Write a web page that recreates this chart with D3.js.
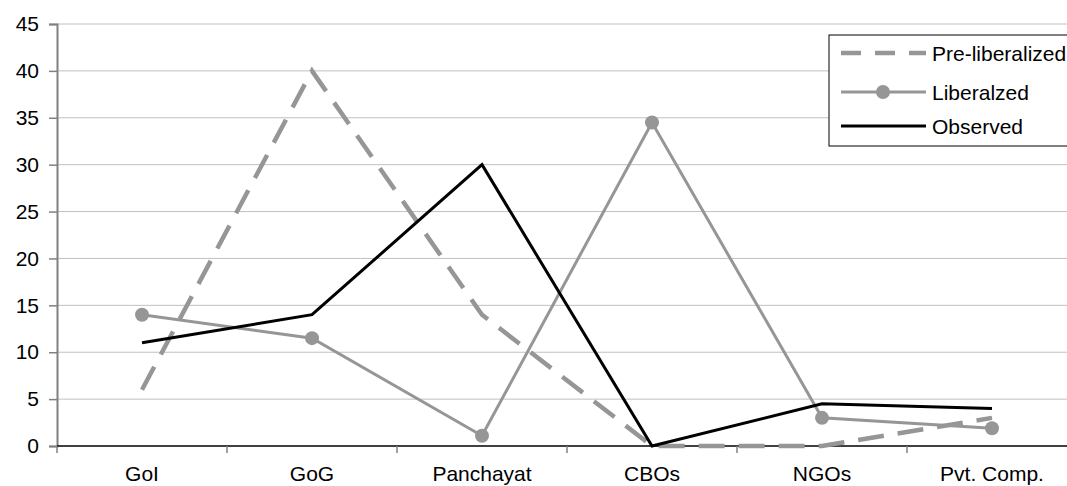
<!DOCTYPE html>
<html>
<head>
<meta charset="utf-8">
<script src="https://cdn.jsdelivr.net/npm/d3@7"></script>
<style>
  body { margin: 0; background: #fff; }
  svg { display: block; }
  text { font-family: "Liberation Sans Narrow", "Arial Narrow", "Liberation Sans", sans-serif; fill: #000; }
</style>
</head>
<body>
<div id="chart"></div>
<script>
// categories and series
var categories = ["GoI", "GoG", "Panchayat", "CBOs", "NGOs", "Pvt. Comp."];
var preLiberalized = [6, 40, 14, 0, 0, 3];
var liberalized = [14, 11.5, 1.1, 34.5, 3, 1.9];
var observed = [11, 14, 30, 0, 4.5, 4];
var yTicks = [0, 5, 10, 15, 20, 25, 30, 35, 40, 45];

var W = 1067, H = 486;
var margin = { top: 24, right: -10, bottom: 40, left: 57 },
    width = W - margin.left - margin.right,
    height = H - margin.top - margin.bottom;

var svg = d3.select("#chart").append("svg")
    .attr("width", W)
    .attr("height", H);

var g = svg.append("g")
    .attr("transform", "translate(" + margin.left + "," + margin.top + ")");

var x = d3.scaleBand().domain(categories).range([0, width]);
var y = d3.scaleLinear().domain([0, 45]).range([height, 0]);

// gridlines
g.append("g")
    .selectAll("line")
    .data(yTicks.filter(function (d) { return d > 0; }))
    .enter()
    .append("line")
    .attr("x1", 0)
    .attr("x2", width)
    .attr("y1", function (d) { return y(d); })
    .attr("y2", function (d) { return y(d); })
    .attr("stroke", "#c0c0c0")
    .attr("stroke-width", 1);

// y axis
var yAxis = g.append("g")
    .call(d3.axisLeft(y).tickValues(yTicks).tickSize(8).tickPadding(10));
yAxis.select(".domain").attr("stroke", "#808080").attr("stroke-width", 2);
yAxis.selectAll(".tick line").attr("stroke", "#808080").attr("stroke-width", 1.5);
yAxis.selectAll(".tick text").attr("font-size", 21).style("font-family", "Liberation Sans Narrow, Arial Narrow, sans-serif");

// x axis
var bounds = categories.map(function (c) { return x(c); });
var xAxis = g.append("g").attr("transform", "translate(0," + height + ")");
xAxis.append("line")
    .attr("x1", 0).attr("x2", width)
    .attr("stroke", "#000").attr("stroke-width", 1.5);
xAxis.selectAll("line.tk")
    .data(bounds)
    .enter()
    .append("line")
    .attr("class", "tk")
    .attr("x1", function (d) { return d; })
    .attr("x2", function (d) { return d; })
    .attr("y1", 0).attr("y2", 7)
    .attr("stroke", "#808080").attr("stroke-width", 1.5);
xAxis.selectAll("text")
    .data(categories)
    .enter()
    .append("text")
    .attr("x", function (d) { return x(d) + x.bandwidth() / 2; })
    .attr("y", 35)
    .attr("text-anchor", "middle")
    .attr("font-size", 21)
    .text(function (d) { return d; });

var line = function (vals) {
    return d3.line()
        .x(function (d, i) { return x(categories[i]) + x.bandwidth() / 2; })
        .y(function (d) { return y(d); })(vals);
};

// Pre-liberalized (dashed)
g.append("path")
    .attr("d", line(preLiberalized))
    .attr("fill", "none")
    .attr("stroke", "#969696")
    .attr("stroke-width", 4.5)
    .attr("stroke-dasharray", "26,14");

// Liberalized
g.append("path")
    .attr("d", line(liberalized))
    .attr("fill", "none")
    .attr("stroke", "#969696")
    .attr("stroke-width", 3);
g.selectAll("circle.lib")
    .data(liberalized)
    .enter()
    .append("circle")
    .attr("class", "lib")
    .attr("cx", function (d, i) { return x(categories[i]) + x.bandwidth() / 2; })
    .attr("cy", function (d) { return y(d); })
    .attr("r", 7)
    .attr("fill", "#969696");

// Observed
g.append("path")
    .attr("d", line(observed))
    .attr("fill", "none")
    .attr("stroke", "#000")
    .attr("stroke-width", 3);

// legend
var legend = svg.append("g").attr("transform", "translate(829,35)");
legend.append("rect")
    .attr("x", 0).attr("y", 0)
    .attr("width", 260).attr("height", 111)
    .attr("fill", "#fff")
    .attr("stroke", "#000")
    .attr("stroke-width", 1);

var items = [
    { name: "Pre-liberalized", color: "#969696", dash: "20,14", w: 4.5, dot: false },
    { name: "Liberalzed", color: "#969696", dash: null, w: 3, dot: true },
    { name: "Observed", color: "#000", dash: null, w: 3, dot: false }
];
var rowY = [18, 57, 91];
items.forEach(function (it, i) {
    var ly = rowY[i];
    legend.append("line")
        .attr("x1", 12).attr("x2", 97)
        .attr("y1", ly).attr("y2", ly)
        .attr("stroke", it.color)
        .attr("stroke-width", it.w)
        .attr("stroke-dasharray", it.dash);
    if (it.dot) {
        legend.append("circle")
            .attr("cx", 54).attr("cy", ly)
            .attr("r", 7).attr("fill", it.color);
    }
    legend.append("text")
        .attr("x", 103).attr("y", ly + 8)
        .attr("font-size", 21)
        .text(it.name);
});
</script>
</body>
</html>
